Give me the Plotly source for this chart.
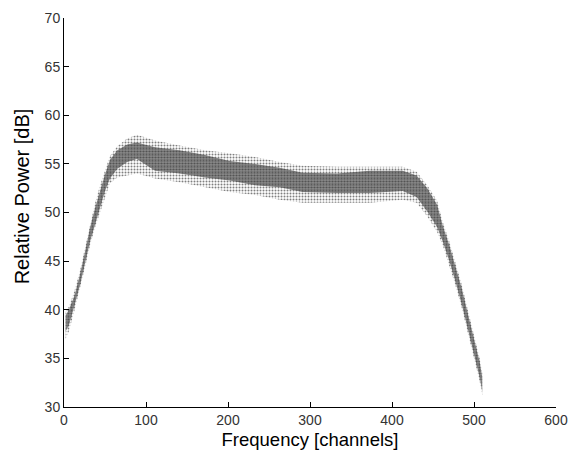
import plotly.graph_objects as go

# envelope of the overlaid spectra
channel = [2, 6, 13, 20, 26, 32, 38, 44, 50, 56, 65, 77, 89, 111, 141, 172, 202,
           233, 263, 291, 333, 373, 413, 430, 443, 455, 462, 470, 477, 485, 493,
           501, 507, 510]
power_lo = [37.0, 37.8, 40.0, 42.3, 44.5, 46.7, 48.5, 50.0, 51.6, 53.0, 53.6, 53.8,
            54.0, 53.5, 53.1, 52.6, 52.1, 51.8, 51.3, 51.0, 51.0, 51.0, 51.3, 51.0,
            49.6, 48.0, 46.6, 44.5, 42.6, 40.2, 37.4, 34.7, 32.6, 31.2]
power_hi = [39.8, 40.3, 42.0, 44.2, 46.5, 48.9, 51.0, 52.8, 54.4, 55.8, 56.8, 57.6,
            58.0, 57.4, 56.9, 56.4, 56.1, 55.7, 55.2, 54.8, 54.7, 54.7, 54.7, 54.2,
            52.8, 51.2, 49.0, 47.0, 45.0, 42.6, 39.8, 37.0, 35.0, 33.5]
# dense core of the cloud
core_lo = [37.8, 38.4, 40.5, 42.7, 44.9, 47.1, 48.9, 50.5, 52.2, 53.5, 54.5, 55.2,
           55.5, 54.3, 54.0, 53.6, 53.3, 52.8, 52.6, 52.1, 52.0, 52.0, 52.2, 51.6,
           50.1, 48.5, 47.0, 45.0, 43.0, 40.6, 37.8, 35.1, 33.0, 31.6]
core_hi = [39.4, 40.0, 41.5, 43.8, 46.1, 48.5, 50.5, 52.3, 53.9, 55.4, 56.4, 57.0,
           57.2, 56.7, 56.4, 55.9, 55.3, 55.0, 54.6, 54.1, 54.0, 54.3, 54.3, 53.8,
           52.5, 50.8, 48.6, 46.6, 44.6, 42.2, 39.4, 36.6, 34.6, 33.1]

x_ticks = [0, 100, 200, 300, 400, 500, 600]
y_ticks = [30, 35, 40, 45, 50, 55, 60, 65, 70]

fig = go.Figure()

fig.add_trace(go.Scatter(
    x=channel + channel[::-1],
    y=power_hi + power_lo[::-1],
    mode='lines', fill='toself', line=dict(width=0),
    fillcolor='rgba(0,0,0,0)',
    fillpattern=dict(shape='.', size=3, solidity=0.35,
                     fgcolor='black', bgcolor='rgba(0,0,0,0)'),
    hoverinfo='skip', showlegend=False
))
fig.add_trace(go.Scatter(
    x=channel + channel[::-1],
    y=core_hi + core_lo[::-1],
    mode='lines', fill='toself', line=dict(width=0),
    fillcolor='rgba(0,0,0,0)',
    fillpattern=dict(shape='.', size=2, solidity=0.6,
                     fgcolor='black', bgcolor='rgba(110,110,110,0.55)'),
    hoverinfo='skip', showlegend=False
))

axis_style = dict(
    showgrid=False, zeroline=False, showline=True, linecolor='black',
    linewidth=1, ticks='inside', ticklen=5, tickcolor='black',
    tickfont=dict(family='Liberation Sans, Arial', size=14, color='#333333'),
    mirror=False, automargin=False,
)

fig.update_xaxes(
    range=[0, 600], tickvals=x_ticks,
    title=dict(text='Frequency [channels]', standoff=6,
               font=dict(family='Liberation Sans, Arial', size=18.5, color='black')),
    **axis_style
)
fig.update_yaxes(range=[30, 70], tickvals=y_ticks, **axis_style)

# y label sits a little above the axis centre in the original
fig.add_annotation(
    text='Relative Power [dB]', textangle=-90, showarrow=False,
    xref='paper', yref='paper', x=-0.085, y=0.542,
    xanchor='center', yanchor='middle',
    font=dict(family='Liberation Sans, Arial', size=20, color='black'),
)

fig.update_layout(
    width=571, height=454,
    margin=dict(l=64, r=15, t=18, b=47),
    paper_bgcolor='white', plot_bgcolor='white',
)

# drop the default 8px body margin so the figure fills the window
fig.write_html('out.html', config={'displayModeBar': False},
               post_script="document.body.style.margin='0px';")
